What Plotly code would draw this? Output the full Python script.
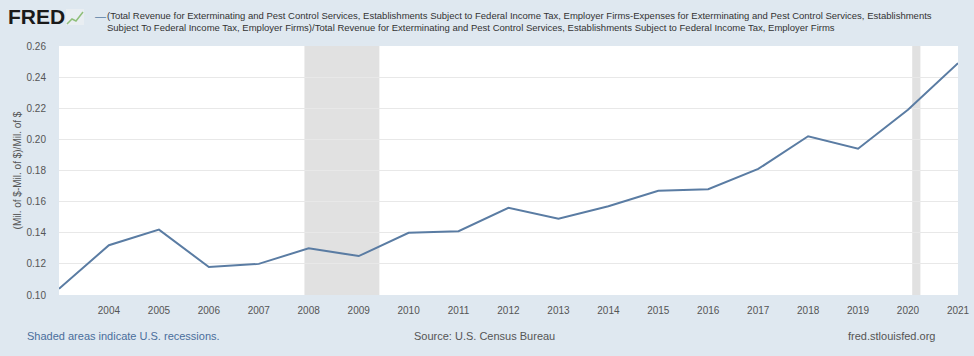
import plotly.graph_objects as go

years = [2003, 2004, 2005, 2006, 2007, 2008, 2009, 2010, 2011, 2012,
         2013, 2014, 2015, 2016, 2017, 2018, 2019, 2020, 2021]
values = [0.104, 0.132, 0.142, 0.118, 0.120, 0.130, 0.125, 0.140, 0.141, 0.156,
          0.149, 0.157, 0.167, 0.168, 0.181, 0.202, 0.194, 0.219, 0.249]
tick_years = list(range(2004, 2022))
y_ticks = [0.10, 0.12, 0.14, 0.16, 0.18, 0.20, 0.22, 0.24, 0.26]
recessions = [("2007-12-01", "2009-06-01"), ("2020-02-01", "2020-04-01")]

dates = [f"{y}-01-01" for y in years]
tickvals = [f"{y}-01-01" for y in tick_years]
ticktext = [str(y) for y in tick_years]

BG = "#dfe8f0"
FONT = "Liberation Sans, Arial, sans-serif"

fig = go.Figure()
fig.add_trace(go.Scatter(x=dates, y=values, mode="lines",
                         line=dict(color="#5a7ca3", width=2), hoverinfo="x+y",
                         showlegend=False))

for s, e in recessions:
    fig.add_vrect(x0=s, x1=e, fillcolor="#e1e1e1", line_width=0, layer="below", opacity=1)

fig.update_layout(
    width=974, height=356,
    margin=dict(l=59, r=16, t=46, b=61, autoexpand=False),
    paper_bgcolor=BG, plot_bgcolor="white",
    font=dict(family=FONT, color="#555555", size=10),
    xaxis=dict(type="date", range=["2003-01-01", "2021-01-01"], automargin=False,
               tickvals=tickvals, ticktext=ticktext,
               showgrid=False, zeroline=False, showline=False,
               ticks="outside", ticklen=6, tickcolor="rgba(0,0,0,0)",
               tickfont=dict(size=10, color="#555555")),
    yaxis=dict(range=[0.10, 0.26], tickvals=y_ticks, automargin=False,
               ticktext=[f"{v:.2f}" for v in y_ticks],
               showgrid=True, gridcolor="#e8e8e8", gridwidth=1,
               zeroline=False, showline=False,
               ticks="outside", ticklen=10, tickcolor="rgba(0,0,0,0)",
               tickfont=dict(size=10, color="#555555"),
               title=dict(text="(Mil. of $-Mil. of $)/Mil. of $", standoff=3,
                          font=dict(size=10, color="#555555"))),
)

# FRED logo
fig.add_annotation(xref="paper", yref="paper", x=-53/899, y=1 + 30/249, xanchor="left", yanchor="middle",
                   text="<b>FRED</b>", showarrow=False,
                   font=dict(family="Liberation Sans, Arial", size=21, color="#1a1a1a"))
# small chart icon (decorative)
fig.add_shape(type="rect", xref="paper", yref="paper",
              x0=(66-59)/899, x1=(84-59)/899, y0=1 + (46-25)/249, y1=1 + (46-9)/249,
              line=dict(width=0), fillcolor="#e9eef2")
fig.add_shape(type="path", xref="paper", yref="paper",
              path=f"M {(67-59)/899},{1 + (46-24)/249} L {(72-59)/899},{1 + (46-19)/249} L {(76-59)/899},{1 + (46-21)/249} L {(83-59)/899},{1 + (46-12)/249}",
              line=dict(color="#8fbf7a", width=1.5))

# legend text
fig.add_annotation(xref="paper", yref="paper", x=(93-59)/899, y=1 + (46-16)/249, xanchor="left", yanchor="middle",
                   text="—", showarrow=False, font=dict(family=FONT, size=11, color="#5a7ca3"))
fig.add_annotation(xref="paper", yref="paper", x=(105-59)/899, y=1 + (46-22)/249, xanchor="left", yanchor="middle",
                   align="left", showarrow=False,
                   text="(Total Revenue for Exterminating and Pest Control Services, Establishments Subject to Federal Income Tax, Employer Firms-Expenses for Exterminating and Pest Control Services, Establishments<br>Subject To Federal Income Tax, Employer Firms)/Total Revenue for Exterminating and Pest Control Services, Establishments Subject to Federal Income Tax, Employer Firms",
                   font=dict(family=FONT, size=9.5, color="#333333"))

# footer
fig.add_annotation(xref="paper", yref="paper", x=(25-59)/899, y=-(336-295)/249, xanchor="left", yanchor="middle",
                   text="Shaded areas indicate U.S. recessions.", showarrow=False,
                   font=dict(family=FONT, size=11, color="#4a6e9c"))
fig.add_annotation(xref="paper", yref="paper", x=(484-59)/899, y=-(336-295)/249, xanchor="center", yanchor="middle",
                   text="Source: U.S. Census Bureau", showarrow=False,
                   font=dict(family=FONT, size=11, color="#555555"))
fig.add_annotation(xref="paper", yref="paper", x=(937-59)/899, y=-(336-295)/249, xanchor="right", yanchor="middle",
                   text="fred.stlouisfed.org", showarrow=False,
                   font=dict(family=FONT, size=11, color="#555555"))

fig.write_html("out.html", config={"displayModeBar": False},
               post_script="document.body.style.margin='0';document.body.style.overflow='hidden';")
